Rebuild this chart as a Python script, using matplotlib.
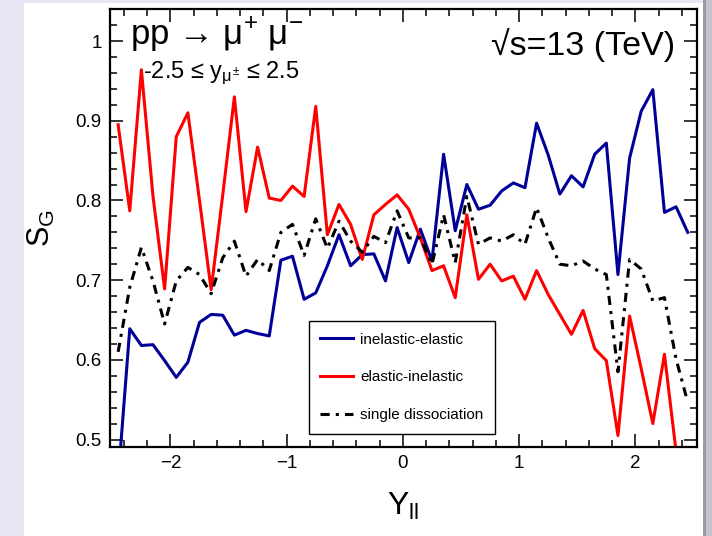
import numpy as np
import matplotlib
matplotlib.use('Agg')
import matplotlib.pyplot as plt
from matplotlib.patches import Rectangle
from matplotlib.ticker import MultipleLocator, FuncFormatter

plt.rcParams['font.family'] = ['Liberation Sans', 'DejaVu Sans']
plt.rcParams['mathtext.fontset'] = 'custom'
plt.rcParams['mathtext.rm'] = 'Liberation Sans'
plt.rcParams['mathtext.it'] = 'Liberation Sans'

# bin centres of Y_ll, 50 bins of width 0.1 in [-2.5, 2.5]
y_ll = np.linspace(-2.45, 2.45, 50)

inel_el = [0.45, 0.639, 0.618, 0.619, 0.599, 0.578, 0.597, 0.647, 0.657, 0.656,
           0.631, 0.637, 0.633, 0.630, 0.725, 0.730, 0.676, 0.684, 0.718, 0.757,
           0.718, 0.732, 0.733, 0.699, 0.766, 0.722, 0.764, 0.724, 0.858, 0.762,
           0.820, 0.789, 0.794, 0.812, 0.822, 0.816, 0.897, 0.857, 0.808, 0.831,
           0.817, 0.858, 0.872, 0.707, 0.853, 0.912, 0.939, 0.785, 0.792, 0.760]

el_inel = [0.895, 0.787, 0.964, 0.805, 0.689, 0.880, 0.910, 0.800, 0.688, 0.807,
           0.930, 0.786, 0.867, 0.803, 0.800, 0.818, 0.805, 0.918, 0.757, 0.795,
           0.770, 0.726, 0.782, 0.795, 0.807, 0.789, 0.753, 0.712, 0.718, 0.678,
           0.782, 0.701, 0.720, 0.699, 0.705, 0.676, 0.712, 0.682, 0.657, 0.632,
           0.662, 0.614, 0.599, 0.505, 0.655, 0.589, 0.520, 0.607, 0.485, 0.43]

single_diss = [0.610, 0.691, 0.741, 0.699, 0.645, 0.699, 0.716, 0.707, 0.683, 0.728,
               0.749, 0.705, 0.726, 0.712, 0.760, 0.770, 0.731, 0.777, 0.740, 0.774,
               0.749, 0.735, 0.755, 0.747, 0.787, 0.753, 0.753, 0.720, 0.782, 0.722,
               0.805, 0.745, 0.753, 0.749, 0.757, 0.745, 0.791, 0.753, 0.720, 0.718,
               0.724, 0.714, 0.707, 0.585, 0.726, 0.714, 0.674, 0.678, 0.601, 0.547]

labels = ['inelastic-elastic', 'elastic-inelastic', 'single dissociation']

fig = plt.figure(figsize=(7.12, 5.36), dpi=100)
fig.patch.set_facecolor('white')

# slide background around the plot
fig.patches.append(Rectangle((0, 0), 24 / 712, 1, transform=fig.transFigure,
                             facecolor='#e6e6f4', edgecolor='none', zorder=0))
fig.patches.append(Rectangle((0, 533 / 536), 1, 3 / 536, transform=fig.transFigure,
                             facecolor='#e6e6f4', edgecolor='none', zorder=0))
fig.patches.append(Rectangle((703 / 712, 0), 3 / 712, 1, transform=fig.transFigure,
                             facecolor='#9c9ca4', edgecolor='none', zorder=0))
fig.patches.append(Rectangle((706 / 712, 0), 6 / 712, 1, transform=fig.transFigure,
                             facecolor='#c4c4cc', edgecolor='none', zorder=0))

ax = fig.add_axes([110 / 712, 89.3 / 536, 587 / 712, 437.5 / 536])

ax.plot(y_ll, inel_el, color='#000099', lw=2.2, label=labels[0])
ax.plot(y_ll, el_inel, color='#ff0000', lw=2.2, label=labels[1])
ax.plot(y_ll, single_diss, color='black', lw=2.2, ls=(0, (3, 2, 1, 2)), label=labels[2])

ax.set_xlim(-2.52, 2.53)
ax.set_ylim(0.491, 1.04)

ax.xaxis.set_major_locator(MultipleLocator(1))
ax.xaxis.set_minor_locator(MultipleLocator(0.2))
ax.yaxis.set_major_locator(MultipleLocator(0.1))
ax.yaxis.set_minor_locator(MultipleLocator(0.02))
ax.yaxis.set_major_formatter(FuncFormatter(lambda v, p: '%g' % round(v, 2)))

ax.tick_params(which='both', direction='in', top=True, right=True, width=1.1,
               labelsize=13.5, pad=6)
ax.tick_params(which='major', length=9.5)
ax.tick_params(which='minor', length=5)
for s in ax.spines.values():
    s.set_linewidth(1.6)

ax.set_xlabel(r'Y$_{\mathregular{ll}}$', fontsize=23)
ax.xaxis.set_label_coords(0.5, -0.1)
ax.set_ylabel(r'S$_{\mathregular{G}}$', fontsize=22)
ax.yaxis.set_label_coords(-0.09, 0.5)

ax.text(0.034, 0.918, 'pp \u2192 \u03bc$^{+}$ \u03bc$^{-}$', transform=ax.transAxes,
        fontsize=25, va='baseline', ha='left')
ax.text(0.056, 0.842, '-2.5 \u2264 y$_{\\mu^{\\pm}}$ \u2264 2.5', transform=ax.transAxes,
        fontsize=17, va='baseline', ha='left')
ax.text(0.963, 0.895, '\u221as=13 (TeV)', transform=ax.transAxes,
        fontsize=24.5, va='baseline', ha='right')

leg = ax.legend(loc='lower left', bbox_to_anchor=(0.339, 0.03), fontsize=11,
                frameon=True, fancybox=False, edgecolor='black', framealpha=1,
                handlelength=2.1, handletextpad=0.5, labelspacing=1.55,
                borderpad=0.75, borderaxespad=0)
leg.get_frame().set_linewidth(1.0)

fig.savefig('out.png', dpi=100)
